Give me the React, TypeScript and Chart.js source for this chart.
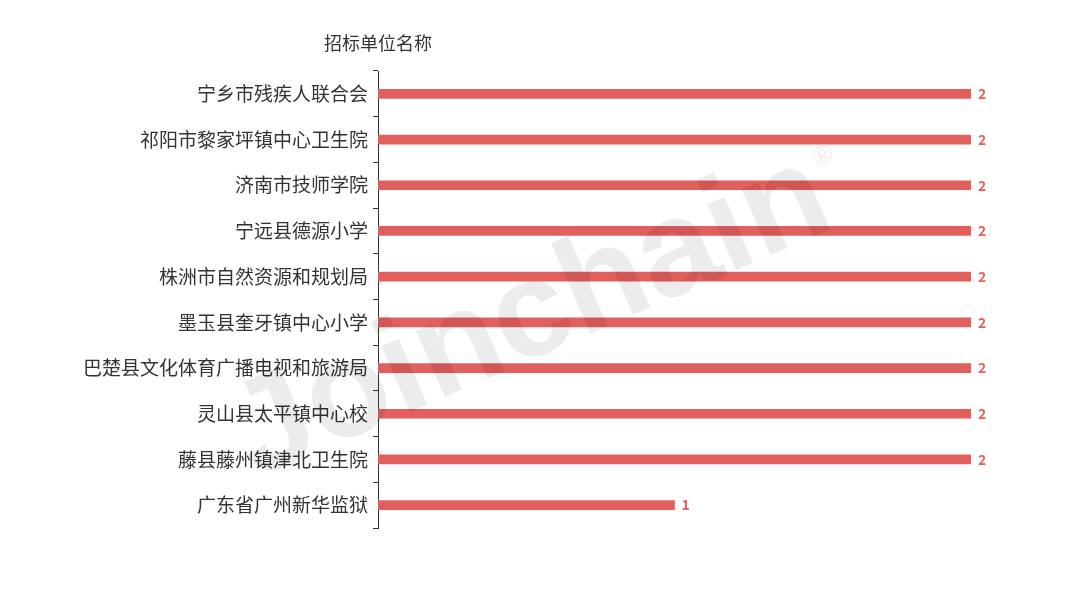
import React, { useEffect, useRef } from "react";
import { Chart, registerables } from "chart.js";

Chart.register(...registerables);

const categories = [
  "宁乡市残疾人联合会",
  "祁阳市黎家坪镇中心卫生院",
  "济南市技师学院",
  "宁远县德源小学",
  "株洲市自然资源和规划局",
  "墨玉县奎牙镇中心小学",
  "巴楚县文化体育广播电视和旅游局",
  "灵山县太平镇中心校",
  "藤县藤州镇津北卫生院",
  "广东省广州新华监狱",
];
const values = [2, 2, 2, 2, 2, 2, 2, 2, 2, 1];
const axisTitle = "招标单位名称";
const watermark = "Joinchain";

const BAR_COLOR = "#e15f5c";
const FONT = "'Noto Sans CJK SC', 'Noto Sans', sans-serif";

const overlayPlugin = {
  id: "overlay",
  afterDraw(chart: any) {
    const ctx = chart.ctx;
    const area = chart.chartArea;
    // axis name
    ctx.save();
    ctx.font = `18px ${FONT}`;
    ctx.fillStyle = "#333";
    ctx.textAlign = "center";
    ctx.textBaseline = "middle";
    ctx.fillText(axisTitle, area.left, 43);
    ctx.restore();

    // value labels
    const meta = chart.getDatasetMeta(0);
    ctx.save();
    ctx.font = `bold 14px ${FONT}`;
    ctx.fillStyle = BAR_COLOR;
    ctx.textAlign = "left";
    ctx.textBaseline = "middle";
    meta.data.forEach((el: any, i: number) => {
      ctx.fillText(String(values[i]), el.x + 7, el.y);
    });
    ctx.restore();

    // watermark
    ctx.save();
    ctx.translate(532, 318);
    ctx.rotate((-23.5 * Math.PI) / 180);
    ctx.font = `bold 136px 'Liberation Sans', Arial, sans-serif`;
    ctx.fillStyle = "rgba(0,0,0,0.075)";
    ctx.textAlign = "center";
    ctx.textBaseline = "middle";
    ctx.fillText(watermark, 0, 0);
    const w = ctx.measureText(watermark).width;
    ctx.font = `26px 'Liberation Sans', Arial, sans-serif`;
    ctx.fillText("®", w / 2 + 14, -32);
    ctx.restore();
  },
};

export default function App() {
  const ref = useRef<HTMLCanvasElement>(null);
  useEffect(() => {
    if (!ref.current) return;
    const chart = new Chart(ref.current, {
      type: "bar",
      data: {
        labels: categories,
        datasets: [
          {
            data: values,
            backgroundColor: BAR_COLOR,
            barThickness: 9,
          },
        ],
      },
      options: {
        indexAxis: "y",
        animation: false,
        responsive: false,
        maintainAspectRatio: false,
        layout: { padding: { top: 71, bottom: 72, right: 109, left: 0 } },
        plugins: {
          legend: { display: false },
          tooltip: { enabled: false },
        },
        scales: {
          x: {
            display: false,
            min: 0,
            max: 2,
          },
          y: {
            afterFit: (scale: any) => {
              scale.width = 378;
            },
            grid: {
              drawOnChartArea: false,
              drawTicks: true,
              tickLength: 5,
              color: "#333",
              offset: true,
            },
            border: { display: true, color: "#333", width: 1 },
            ticks: {
              padding: 5,
              color: "#333",
              font: { size: 19, family: FONT },
            },
          },
        },
      },
      plugins: [overlayPlugin],
    });
    return () => chart.destroy();
  }, []);
  return (
    <div style={{ position: "absolute", left: 0, top: 0, width: 1080, height: 600 }}>
      <canvas ref={ref} width={1080} height={600} style={{ width: 1080, height: 600 }} />
    </div>
  );
}
